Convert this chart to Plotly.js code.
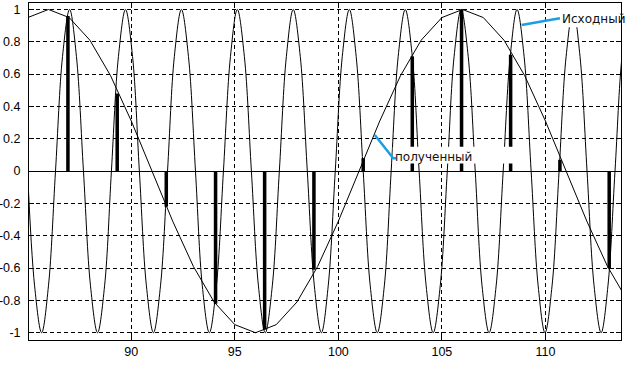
<!DOCTYPE html>
<html>
<head>
<meta charset="utf-8">
<script src="https://cdn.plot.ly/plotly-3.0.1.min.js"></script>
<style>
  html, body { margin: 0; padding: 0; background: #fff; }
  #chart { width: 626px; height: 365px; }
</style>
</head>
<body>
<div id="chart"></div>
<script>
// ---- data ----
// fast original signal ("Исходный"), points read at eighth-period spacing
const fastX = [84.99,85.33,85.67,86.00,86.34,86.68,87.02,87.35,87.69,88.03,
  88.37,88.71,89.04,89.38,89.72,90.06,90.39,90.73,91.07,91.41,
  91.75,92.08,92.42,92.76,93.10,93.43,93.77,94.11,94.45,94.79,
  95.12,95.46,95.80,96.14,96.47,96.81,97.15,97.49,97.82,98.16,
  98.50,98.84,99.18,99.51,99.85,100.19,100.53,100.86,101.20,101.54,
  101.88,102.22,102.55,102.89,103.23,103.57,103.90,104.24,104.58,104.92,
  105.26,105.59,105.93,106.27,106.61,106.94,107.28,107.62,107.96,108.30,
  108.63,108.97,109.31,109.65,109.98,110.32,110.66,111.00,111.34,111.67,
  112.01,112.35,112.69,113.02,113.36,113.70,114.04];
const fastY = [0,-0.71,-1,-0.71,0,0.71,1,0.71,
  0,-0.71,-1,-0.71,0,0.71,1,0.71,
  0,-0.71,-1,-0.71,0,0.71,1,0.71,
  0,-0.71,-1,-0.71,0,0.71,1,0.71,
  0,-0.71,-1,-0.71,0,0.71,1,0.71,
  0,-0.71,-1,-0.71,0,0.71,1,0.71,
  0,-0.71,-1,-0.71,0,0.71,1,0.71,
  0,-0.71,-1,-0.71,0,0.71,1,0.71,
  0,-0.71,-1,-0.71,0,0.71,1,0.71,
  0,-0.71,-1,-0.71,0,0.71,1,0.71,
  0,-0.71,-1,-0.71,0,0.71,1];

// reconstructed slow signal ("полученный"), polyline vertices
const slowX = [85,86,87,88,89,90,91,92,93,94,95,96,97,98,99,100,
  101,102,103,104,105,106,107,108,109,110,111,112,113,114];
const slowY = [0.95,1,0.95,0.81,0.59,0.31,0,-0.31,-0.59,-0.81,-0.95,-1,-0.95,-0.81,-0.59,-0.31,
  0,0.31,0.59,0.81,0.95,1,0.95,0.81,0.59,0.31,0,-0.31,-0.59,-0.81];

// samples (stems)
const sampleX = [86.94,89.32,91.69,94.07,96.44,98.82,101.20,103.57,105.95,108.32,110.70,113.08];
const sampleY = [0.96,0.48,-0.22,-0.82,-0.98,-0.61,0.08,0.71,1.0,0.72,0.07,-0.60];

// tick labels
const xTickVals = [90,95,100,105,110];
const xTickText = ['90','95','100','105','110'];
const yTickVals = [-1,-0.8,-0.6,-0.4,-0.2,0,0.2,0.4,0.6,0.8,1];
const yTickText = ['-1','-0.8','-0.6','-0.4','-0.2','0','0.2','0.4','0.6','0.8','1'];

const labelOrig = 'Исходный';
const labelRecv = 'полученный';

// ---- chart ----
const traces = [
  { type: 'bar', x: sampleX, y: sampleY, width: 0.17,
    marker: { color: '#000', line: { width: 0 } }, hoverinfo: 'skip' },
  { type: 'scatter', mode: 'lines', x: fastX, y: fastY,
    line: { color: '#000', width: 1, shape: 'spline', smoothing: 1 }, hoverinfo: 'skip' },
  { type: 'scatter', mode: 'lines', x: slowX, y: slowY,
    line: { color: '#000', width: 1 }, hoverinfo: 'skip' }
];

const blue = '#1a9fe0';
const axisCommon = {
  showline: true, linecolor: '#000', linewidth: 1, mirror: 'ticks',
  ticks: 'inside', ticklen: 5, tickcolor: '#000', tickwidth: 1,
  showgrid: true, gridcolor: '#000', gridwidth: 1, griddash: '4px,3px',
  tickfont: { family: 'Liberation Sans', size: 12.5, color: '#000' },
  tickmode: 'array', fixedrange: true
};

const layout = {
  width: 626, height: 365,
  margin: { l: 29, r: 5, t: 3, b: 25 },
  paper_bgcolor: '#fff', plot_bgcolor: '#fff',
  showlegend: false, hovermode: false,
  xaxis: Object.assign({}, axisCommon, {
    range: [85.06, 113.65], tickvals: xTickVals, ticktext: xTickText,
    zeroline: false, ticklabelstandoff: 0
  }),
  yaxis: Object.assign({}, axisCommon, {
    range: [-1.045, 1.04], tickvals: yTickVals, ticktext: yTickText,
    zeroline: true, zerolinecolor: '#000', zerolinewidth: 1, ticklabelstandoff: 5
  }),
  shapes: [
    { type: 'rect', xref: 'x', yref: 'y', x0: 102.63, x1: 109.0, y0: 0.047, y1: 0.15,
      fillcolor: '#fff', line: { width: 0 }, layer: 'above' },
    { type: 'rect', xref: 'x', yref: 'y', x0: 110.72, x1: 113.65, y0: 0.89, y1: 1.015,
      fillcolor: '#fff', line: { width: 0 }, layer: 'above' },
    { type: 'line', xref: 'x', yref: 'y', x0: 108.85, y0: 0.904, x1: 110.70, y1: 0.946,
      line: { color: blue, width: 2.5 }, layer: 'above' },
    { type: 'path', xref: 'x', yref: 'y',
      path: 'M101.76,0.223 L102.65,0.079 L102.78,0.079',
      line: { color: blue, width: 2.5 }, layer: 'above' }
  ],
  annotations: [
    { text: labelOrig, xref: 'x', yref: 'y', x: 110.68, y: 0.94,
      xanchor: 'left', yanchor: 'middle', showarrow: false,
      font: { family: 'DejaVu Sans', size: 12, color: '#111' } },
    { text: labelRecv, xref: 'x', yref: 'y', x: 102.66, y: 0.085,
      xanchor: 'left', yanchor: 'middle', showarrow: false,
      font: { family: 'DejaVu Sans', size: 12, color: '#111' } }
  ]
};

Plotly.newPlot('chart', traces, layout, { displayModeBar: false, staticPlot: true });
</script>
</body>
</html>
